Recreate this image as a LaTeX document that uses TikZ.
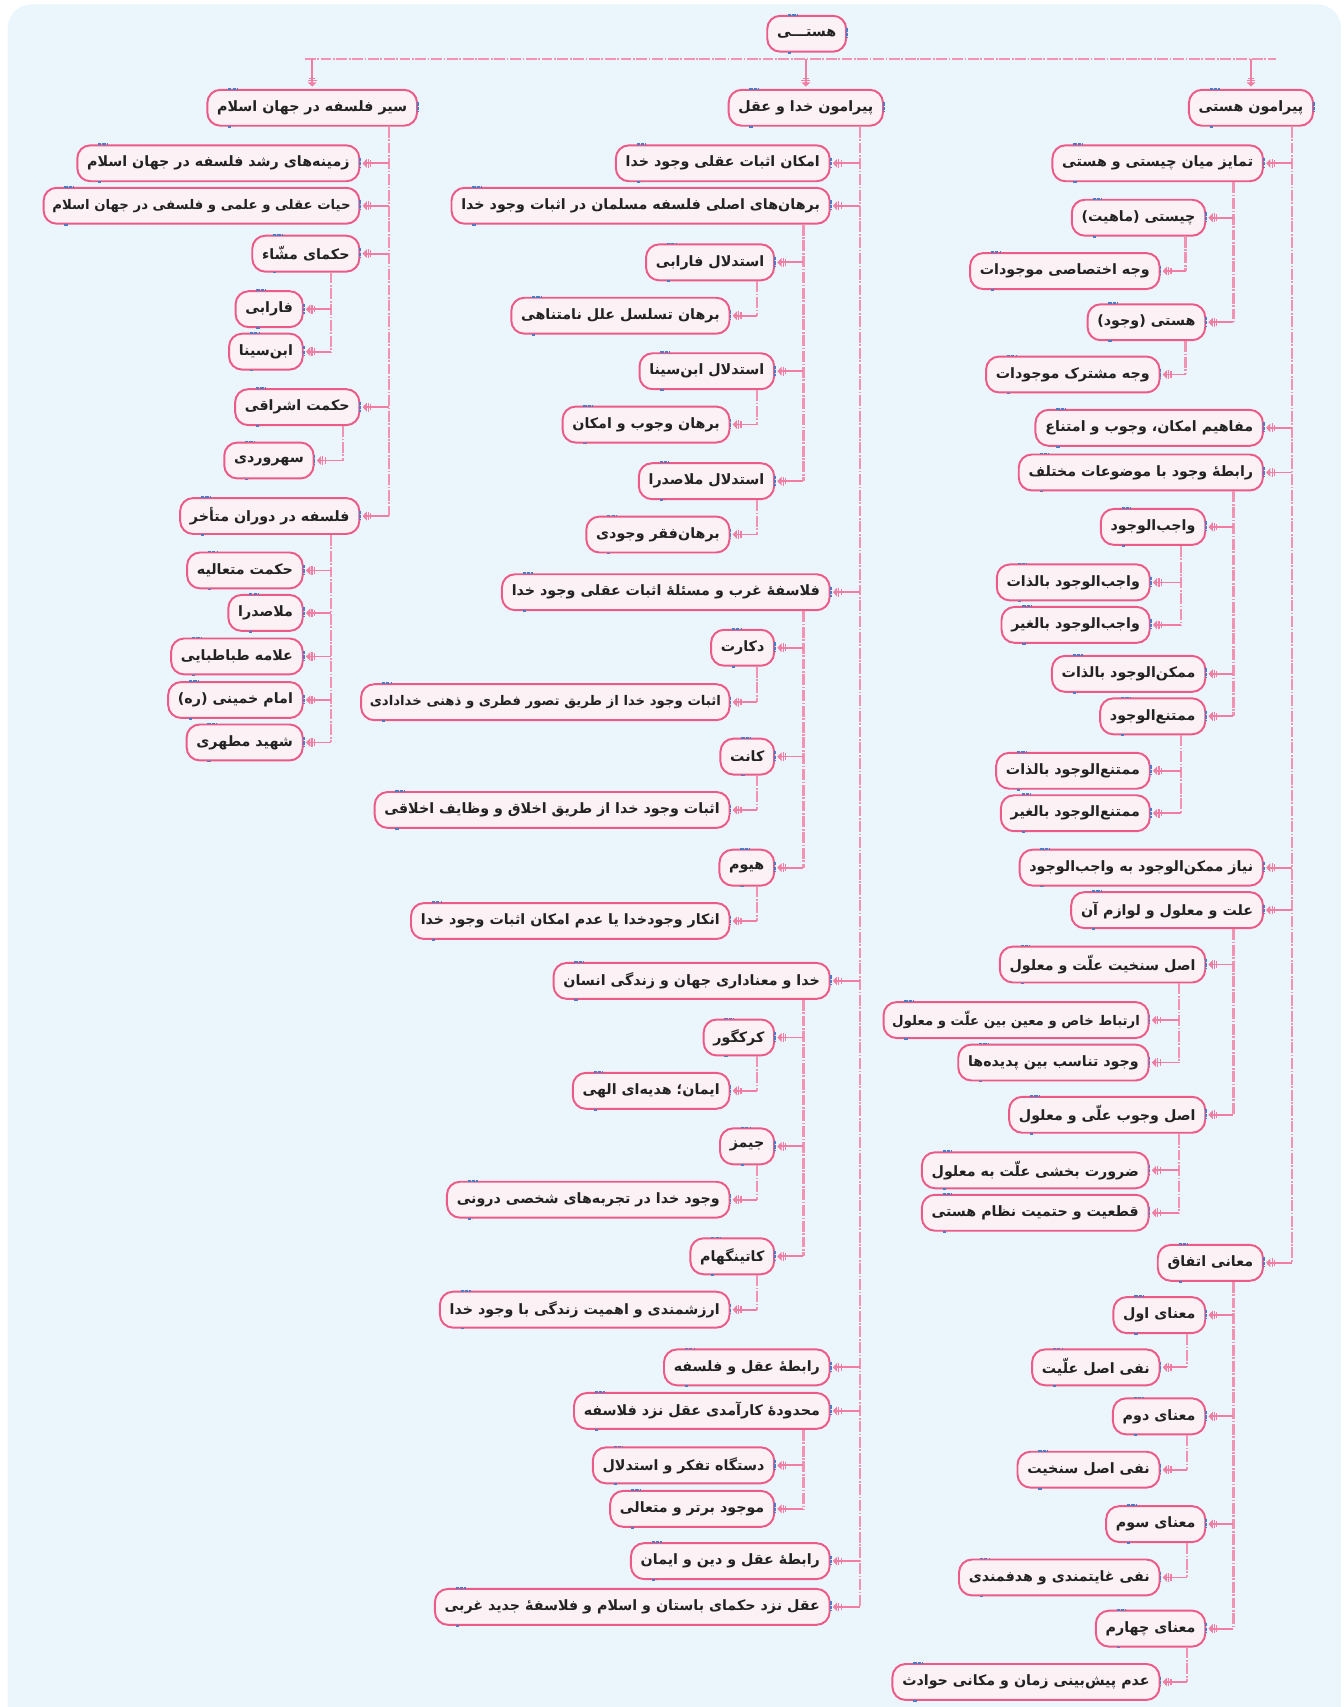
\documentclass[tikz,border=0pt]{standalone}
\usepackage{fontspec}
\usetikzlibrary{arrows.meta}
\TeXXeTstate=1
\newfontfamily\fa[Script=Arabic]{DejaVu Sans}
\definecolor{bgc}{HTML}{EAF6FC}
\definecolor{nodeb}{HTML}{EC5A87}
\definecolor{nodef}{HTML}{FCF1F5}
\definecolor{linec}{HTML}{F27DA2}
\definecolor{trunkc}{HTML}{F393B4}
\definecolor{txt}{HTML}{222222}
\definecolor{bluem}{HTML}{4A7CC9}
\newcommand\rtext[1]{\beginR #1\endR}
\newcommand\branch[4]{%
  \draw[trunk] (#1.south -| #2) -- (#3.east -| #2);
  \foreach \c in {#4} {\draw[arr] (\c.east -| #2) -- (\c.east);}}
\begin{document}
\begin{tikzpicture}[x=1pt,y=-1pt,
  nd/.style={draw=nodeb, fill=nodef, line width=1.8pt, rounded corners=12pt,
    minimum height=33pt, inner xsep=9pt, inner ysep=0pt, anchor=east,
    font=\fa\bfseries\fontsize{13.1}{15}\selectfont, text=txt},
  small/.style={font=\fa\bfseries\fontsize{12.2}{15}\selectfont, inner xsep=8pt},
  trunk/.style={draw=trunkc, line width=2pt, dash pattern=on 10pt off 1.5pt on 1.5pt off 1.5pt},
  arr/.style={draw=linec, line width=1.6pt, shorten >=2pt,
    -{Bar[width=6pt,line width=1.1pt,sep=1pt]Bar[width=8pt,line width=1.1pt,sep=1pt]Triangle[length=4pt,width=8pt]}},
  bm/.style={draw=bluem, line width=1.6pt, dash pattern=on 3pt off 1pt}
]
\useasboundingbox (0,0) rectangle (1234,1568);
\fill[bgc, rounded corners=22pt] (7,4) rectangle (1232,1590);

% root
\node[nd, anchor=center] (root) at (741,31) {\rtext{هستـــی}};
\coordinate (busL) at (280,54);
\coordinate (busR) at (1172,54);
\draw[trunk] (busL) -- (busR);

% level 1
\node[nd] (r0) at (1207,99) {\rtext{پیرامون هستی}};
\node[nd] (m0) at (812,99) {\rtext{پیرامون خدا و عقل}};
\node[nd] (l0) at (384,99) {\rtext{سیر فلسفه در جهان اسلام}};
\foreach \n in {r0,m0,l0} {\draw[arr] (\n.north |- busL) -- (\n.north);}

% ===== right column
\node[nd] (r1) at (1161,150) {\rtext{تمایز میان چیستی و هستی}};
\node[nd] (r11) at (1108,200) {\rtext{چیستی (ماهیت)}};
\node[nd] (r111) at (1066,249) {\rtext{وجه اختصاصی موجودات}};
\node[nd] (r12) at (1108,296) {\rtext{هستی (وجود)}};
\node[nd] (r121) at (1066,344) {\rtext{وجه مشترک موجودات}};
\node[nd] (r2) at (1161,393) {\rtext{مفاهیم امکان، وجوب و امتناع}};
\node[nd] (r3) at (1161,434) {\rtext{رابطهٔ وجود با موضوعات مختلف}};
\node[nd] (r31) at (1108,484) {\rtext{واجب‌الوجود}};
\node[nd] (r311) at (1057,535) {\rtext{واجب‌الوجود بالذات}};
\node[nd] (r312) at (1057,574) {\rtext{واجب‌الوجود بالغیر}};
\node[nd] (r32) at (1108,619) {\rtext{ممکن‌الوجود بالذات}};
\node[nd] (r33) at (1108,658) {\rtext{ممتنع‌الوجود}};
\node[nd] (r331) at (1057,708) {\rtext{ممتنع‌الوجود بالذات}};
\node[nd] (r332) at (1057,747) {\rtext{ممتنع‌الوجود بالغیر}};
\node[nd] (r4) at (1161,797) {\rtext{نیاز ممکن‌الوجود به واجب‌الوجود}};
\node[nd] (r5) at (1161,836) {\rtext{علت و معلول و لوازم آن}};
\node[nd] (r51) at (1108,886) {\rtext{اصل سنخیت علّت و معلول}};
\node[nd, small] (r511) at (1056,937) {\rtext{ارتباط خاص و معین بین علّت و معلول}};
\node[nd] (r512) at (1056,976) {\rtext{وجود تناسب بین پدیده‌ها}};
\node[nd] (r52) at (1108,1024) {\rtext{اصل وجوب علّی و معلول}};
\node[nd] (r521) at (1056,1075) {\rtext{ضرورت بخشی علّت به معلول}};
\node[nd] (r522) at (1056,1114) {\rtext{قطعیت و حتمیت نظام هستی}};
\node[nd] (r6) at (1161,1160) {\rtext{معانی اتفاق}};
\node[nd] (r61) at (1108,1208) {\rtext{معنای اول}};
\node[nd] (r611) at (1066,1256) {\rtext{نفی اصل علّیت}};
\node[nd] (r62) at (1108,1301) {\rtext{معنای دوم}};
\node[nd] (r621) at (1066,1350) {\rtext{نفی اصل سنخیت}};
\node[nd] (r63) at (1108,1400) {\rtext{معنای سوم}};
\node[nd] (r631) at (1066,1449) {\rtext{نفی غایتمندی و هدفمندی}};
\node[nd] (r64) at (1108,1496) {\rtext{معنای چهارم}};
\node[nd] (r641) at (1066,1545) {\rtext{عدم پیش‌بینی زمان و مکانی حوادث}};

\coordinate (tr0) at (1187,0);
\coordinate (tr1) at (1133,0);
\coordinate (tr2) at (1089,0);
\coordinate (tr3) at (1085,0);
\coordinate (tr4) at (1083,0);
\coordinate (tr5) at (1090,0);
\branch{r0}{tr0}{r6}{r1,r2,r3,r4,r5,r6}
\branch{r1}{tr1}{r12}{r11,r12}
\branch{r11}{tr2}{r111}{r111}
\branch{r12}{tr2}{r121}{r121}
\branch{r3}{tr1}{r33}{r31,r32,r33}
\branch{r31}{tr3}{r312}{r311,r312}
\branch{r33}{tr3}{r332}{r331,r332}
\branch{r5}{tr1}{r52}{r51,r52}
\branch{r51}{tr4}{r512}{r511,r512}
\branch{r52}{tr4}{r522}{r521,r522}
\branch{r6}{tr1}{r64}{r61,r62,r63,r64}
\branch{r61}{tr5}{r611}{r611}
\branch{r62}{tr5}{r621}{r621}
\branch{r63}{tr5}{r631}{r631}
\branch{r64}{tr5}{r641}{r641}

% ===== middle column
\node[nd] (m1) at (763,150) {\rtext{امکان اثبات عقلی وجود خدا}};
\node[nd] (m2) at (763,189) {\rtext{برهان‌های اصلی فلسفه مسلمان در اثبات وجود خدا}};
\node[nd] (m21) at (712,241) {\rtext{استدلال فارابی}};
\node[nd] (m211) at (671,290) {\rtext{برهان تسلسل علل نامتناهی}};
\node[nd] (m22) at (712,341) {\rtext{استدلال ابن‌سینا}};
\node[nd] (m221) at (671,390) {\rtext{برهان وجوب و امکان}};
\node[nd] (m23) at (712,442) {\rtext{استدلال ملاصدرا}};
\node[nd] (m231) at (671,491) {\rtext{برهان‌فقر وجودی}};
\node[nd] (m3) at (763,544) {\rtext{فلاسفهٔ غرب و مسئلهٔ اثبات عقلی وجود خدا}};
\node[nd] (m31) at (712,595) {\rtext{دکارت}};
\node[nd, small] (m311) at (671,645) {\rtext{اثبات وجود خدا از طریق تصور فطری و ذهنی خدادادی}};
\node[nd] (m32) at (712,695) {\rtext{کانت}};
\node[nd] (m321) at (671,744) {\rtext{اثبات وجود خدا از طریق اخلاق و وظایف اخلاقی}};
\node[nd] (m33) at (712,797) {\rtext{هیوم}};
\node[nd] (m331) at (671,846) {\rtext{انکار وجودخدا یا عدم امکان اثبات وجود خدا}};
\node[nd] (m4) at (763,901) {\rtext{خدا و معناداری جهان و زندگی انسان}};
\node[nd] (m41) at (712,953) {\rtext{کرکگور}};
\node[nd] (m411) at (671,1002) {\rtext{ایمان؛ هدیه‌ای الهی}};
\node[nd] (m42) at (712,1053) {\rtext{جیمز}};
\node[nd] (m421) at (671,1102) {\rtext{وجود خدا در تجربه‌های شخصی درونی}};
\node[nd] (m43) at (712,1154) {\rtext{کاتینگهام}};
\node[nd] (m431) at (671,1203) {\rtext{ارزشمندی و اهمیت زندگی با وجود خدا}};
\node[nd] (m5) at (763,1256) {\rtext{رابطهٔ عقل و فلسفه}};
\node[nd] (m6) at (763,1296) {\rtext{محدودهٔ کارآمدی عقل نزد فلاسفه}};
\node[nd] (m61) at (712,1346) {\rtext{دستگاه تفکر و استدلال}};
\node[nd] (m62) at (712,1386) {\rtext{موجود برتر و متعالی}};
\node[nd] (m7) at (763,1434) {\rtext{رابطهٔ عقل و دین و ایمان}};
\node[nd] (m8) at (763,1476) {\rtext{عقل نزد حکمای باستان و اسلام و فلاسفهٔ جدید غربی}};

\coordinate (tm0) at (790,0);
\coordinate (tm1) at (738,0);
\coordinate (tm2) at (695,0);
\branch{m0}{tm0}{m8}{m1,m2,m3,m4,m5,m6,m7,m8}
\branch{m2}{tm1}{m23}{m21,m22,m23}
\branch{m21}{tm2}{m211}{m211}
\branch{m22}{tm2}{m221}{m221}
\branch{m23}{tm2}{m231}{m231}
\branch{m3}{tm1}{m33}{m31,m32,m33}
\branch{m31}{tm2}{m311}{m311}
\branch{m32}{tm2}{m321}{m321}
\branch{m33}{tm2}{m331}{m331}
\branch{m4}{tm1}{m43}{m41,m42,m43}
\branch{m41}{tm2}{m411}{m411}
\branch{m42}{tm2}{m421}{m421}
\branch{m43}{tm2}{m431}{m431}
\branch{m6}{tm1}{m62}{m61,m62}

% ===== left column
\node[nd] (l1) at (331,150) {\rtext{زمینه‌های رشد فلسفه در جهان اسلام}};
\node[nd, small] (l2) at (331,189) {\rtext{حیات عقلی و علمی و فلسفی در جهان اسلام}};
\node[nd] (l3) at (331,233) {\rtext{حکمای مشّاء}};
\node[nd] (l31) at (279,284) {\rtext{فارابی}};
\node[nd] (l32) at (279,323) {\rtext{ابن‌سینا}};
\node[nd] (l4) at (331,374) {\rtext{حکمت اشراقی}};
\node[nd] (l41) at (289,423) {\rtext{سهروردی}};
\node[nd] (l5) at (331,474) {\rtext{فلسفه در دوران متأخر}};
\node[nd] (l51) at (279,524) {\rtext{حکمت متعالیه}};
\node[nd] (l52) at (279,563) {\rtext{ملاصدرا}};
\node[nd] (l53) at (279,603) {\rtext{علامه طباطبایی}};
\node[nd] (l54) at (279,643) {\rtext{امام خمینی (ره)}};
\node[nd] (l55) at (279,682) {\rtext{شهید مطهری}};

\coordinate (tl0) at (357,0);
\coordinate (tl1) at (304,0);
\coordinate (tl2) at (315,0);
\branch{l0}{tl0}{l5}{l1,l2,l3,l4,l5}
\branch{l3}{tl1}{l32}{l31,l32}
\branch{l4}{tl2}{l41}{l41}
\branch{l5}{tl1}{l55}{l51,l52,l53,l54,l55}

% blue marks on node borders
\foreach \n in {root,r0,m0,l0,r1,r11,r111,r12,r121,r2,r3,r31,r311,r312,r32,r33,r331,r332,r4,r5,r51,r511,r512,r52,r521,r522,r6,r61,r611,r62,r621,r63,r631,r64,r641,
  m1,m2,m21,m211,m22,m221,m23,m231,m3,m31,m311,m32,m321,m33,m331,m4,m41,m411,m42,m421,m43,m431,m5,m6,m61,m62,m7,m8,
  l1,l2,l3,l31,l32,l4,l41,l5,l51,l52,l53,l54,l55} {
  \draw[bm] ([xshift=20pt]\n.north west) -- ++(9,0);
  \draw[bm] ([yshift=5pt]\n.east) -- ++(0,9);
  \draw[bm] ([xshift=20pt]\n.south west) -- ++(4,0);
}
\end{tikzpicture}
\end{document}
